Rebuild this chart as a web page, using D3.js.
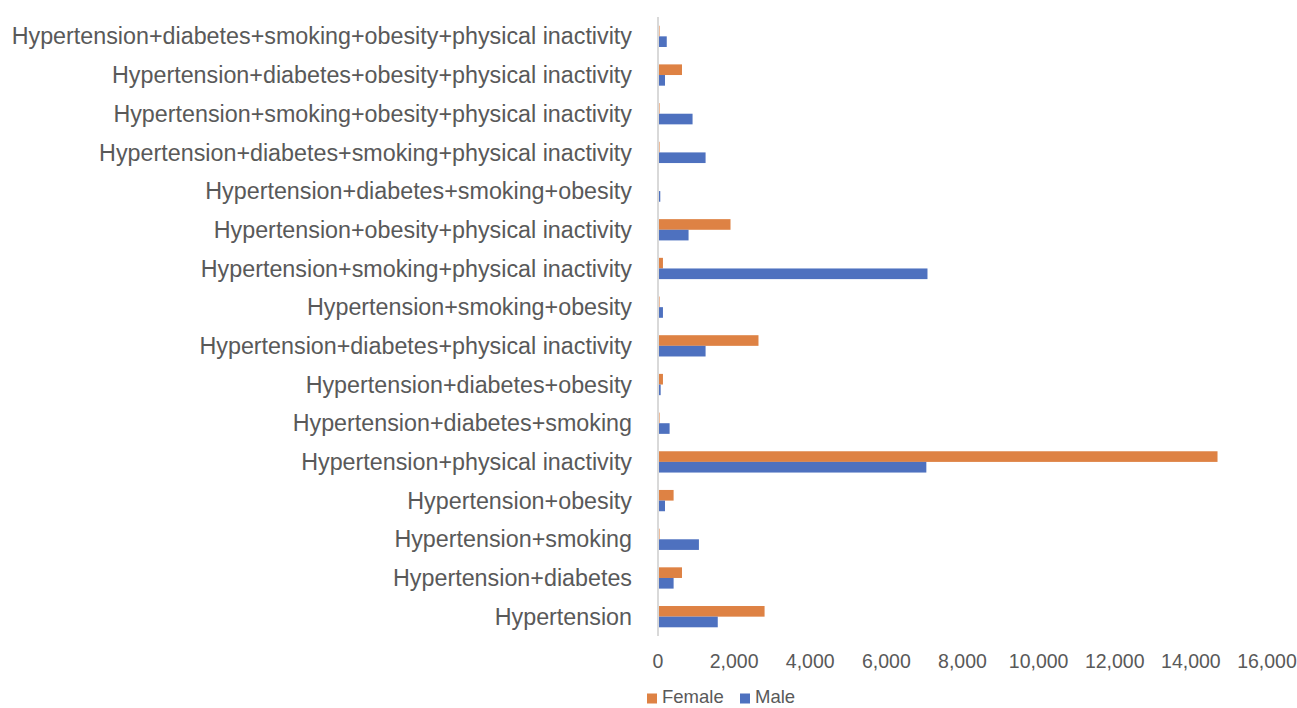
<!DOCTYPE html>
<html>
<head>
<meta charset="utf-8">
<script src="https://cdn.jsdelivr.net/npm/d3@7"></script>
<style>
  body { margin: 0; background: #fff; }
  text { font-family: "Liberation Sans", Arial, sans-serif; fill: #595959; }
</style>
</head>
<body>
<svg width="1297" height="708"></svg>
<script>
// Categories, bottom to top as in the source chart
const categories = [
  "Hypertension",
  "Hypertension+diabetes",
  "Hypertension+smoking",
  "Hypertension+obesity",
  "Hypertension+physical inactivity",
  "Hypertension+diabetes+smoking",
  "Hypertension+diabetes+obesity",
  "Hypertension+diabetes+physical inactivity",
  "Hypertension+smoking+obesity",
  "Hypertension+smoking+physical inactivity",
  "Hypertension+obesity+physical inactivity",
  "Hypertension+diabetes+smoking+obesity",
  "Hypertension+diabetes+smoking+physical inactivity",
  "Hypertension+smoking+obesity+physical inactivity",
  "Hypertension+diabetes+obesity+physical inactivity",
  "Hypertension+diabetes+smoking+obesity+physical inactivity"
];
const female = [2800, 630, 40, 410, 14700, 40, 130, 2640, 40, 130, 1905, 5, 40, 40, 630, 40];
const male = [1570, 410, 1075, 184, 7050, 305, 70, 1250, 130, 7080, 803, 60, 1250, 908, 184, 230];
const series = ["Female", "Male"];
const colors = ["#DE8244", "#4E71BF"];
const xTicks = [0, 2000, 4000, 6000, 8000, 10000, 12000, 14000, 16000];

const svg = d3.select("svg");
const plotLeft = 658, plotRight = 1267, plotTop = 17, plotBottom = 636;

const xScale = d3.scaleLinear().domain([0, 16000]).range([plotLeft, plotRight]);
const yScale = d3.scaleBand().domain(categories).range([plotBottom, plotTop])
  .paddingInner(0.45).paddingOuter(0.225);
const subScale = d3.scaleBand().domain(series).range([0, yScale.bandwidth()]);

const rows = categories.map(function (c, i) {
  return { cat: c, values: [female[i], male[i]] };
});

// Bars
const groups = svg.append("g")
  .selectAll("g")
  .data(rows)
  .enter()
  .append("g")
  .attr("transform", function (d) { return "translate(0," + yScale(d.cat) + ")"; });

groups.selectAll("rect")
  .data(function (d) {
    return d.values.map(function (v, j) { return { key: series[j], value: v, color: colors[j] }; });
  })
  .enter()
  .append("rect")
  .attr("x", xScale(0))
  .attr("y", function (d) { return subScale(d.key); })
  .attr("width", function (d) { return xScale(d.value) - xScale(0); })
  .attr("height", subScale.bandwidth())
  .attr("fill", function (d) { return d.color; });

// Vertical axis line
svg.append("line")
  .attr("x1", xScale(0)).attr("x2", xScale(0))
  .attr("y1", plotTop).attr("y2", plotBottom)
  .attr("stroke", "#D9D9D9")
  .attr("stroke-width", 2);

// Category labels
svg.append("g")
  .selectAll("text")
  .data(categories)
  .enter()
  .append("text")
  .attr("x", 632)
  .attr("y", function (d) { return yScale(d) + yScale.bandwidth() / 2; })
  .attr("dy", "0.35em")
  .attr("text-anchor", "end")
  .style("font-size", "23.3px")
  .text(function (d) { return d; });

// X tick labels
const fmt = d3.format(",");
svg.append("g")
  .selectAll("text")
  .data(xTicks)
  .enter()
  .append("text")
  .attr("x", function (d) { return xScale(d); })
  .attr("y", 661)
  .attr("dy", "0.35em")
  .attr("text-anchor", "middle")
  .style("font-size", "19.5px")
  .text(function (d) { return fmt(d); });

// Legend
const legend = svg.append("g").attr("transform", "translate(647,697)");
const legendX = [0, 93];
series.forEach(function (s, i) {
  legend.append("rect")
    .attr("x", legendX[i]).attr("y", -3.5)
    .attr("width", 10).attr("height", 10)
    .attr("fill", colors[i]);
  legend.append("text")
    .attr("x", legendX[i] + 15).attr("y", 0)
    .attr("dy", "0.35em")
    .style("font-size", "18.5px")
    .text(s);
});
</script>
</body>
</html>
